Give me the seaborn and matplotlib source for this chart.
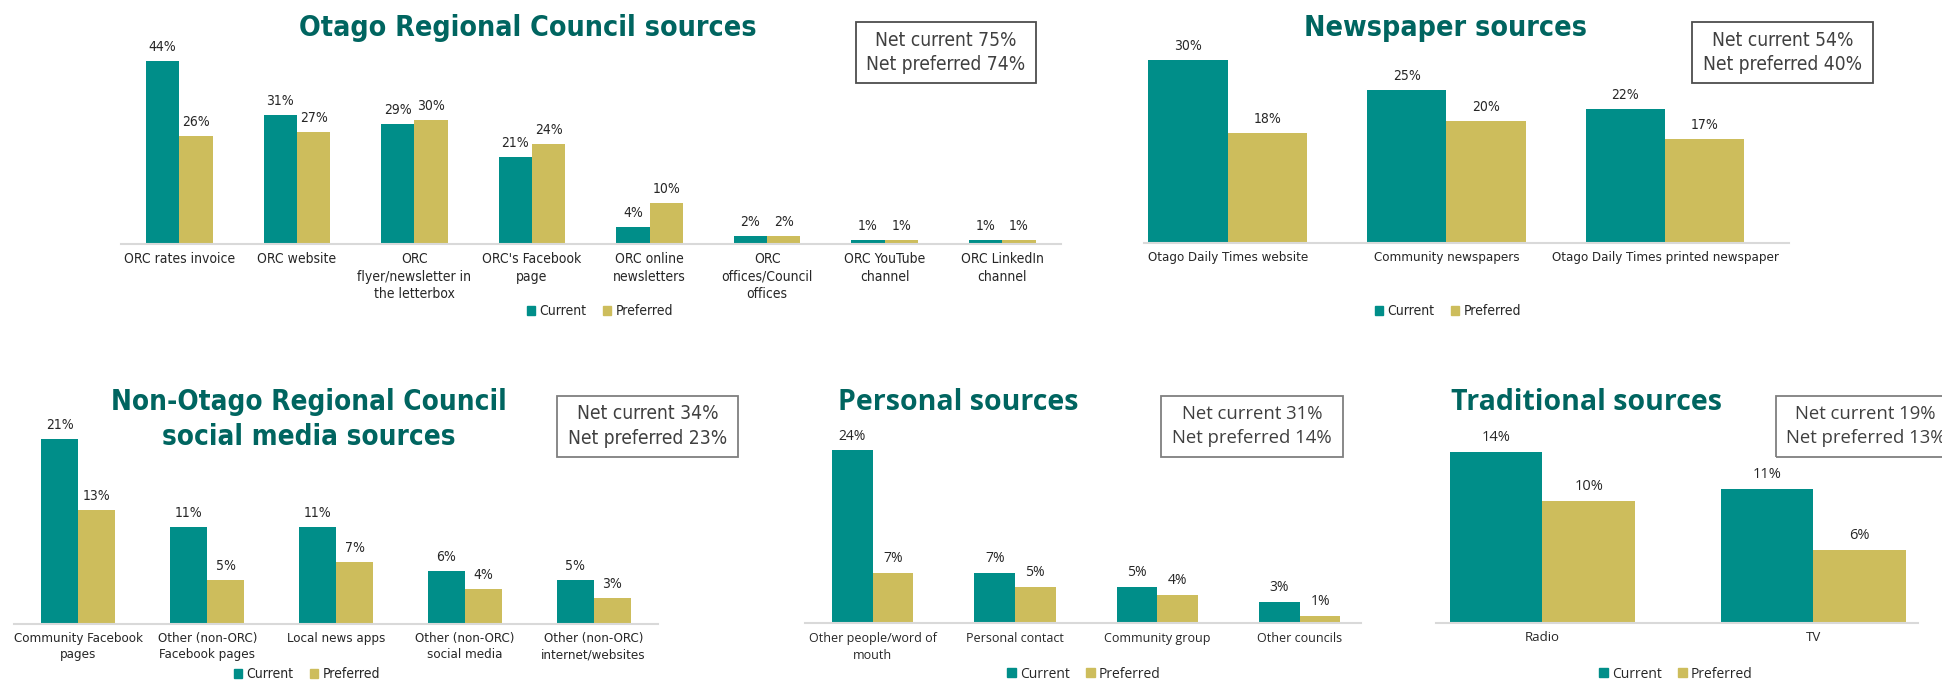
import matplotlib
matplotlib.use("Agg")
import matplotlib.pyplot as plt
import seaborn as sns
import pandas as pd
from matplotlib import font_manager
from matplotlib.patches import Patch, Rectangle

# ---- data ----
series = ["Current", "Preferred"]

orc_labels = ["ORC rates invoice", "ORC website", "ORC\nflyer/newsletter in\nthe letterbox",
              "ORC's Facebook\npage", "ORC online\nnewsletters", "ORC\noffices/Council\noffices",
              "ORC YouTube\nchannel", "ORC LinkedIn\nchannel"]
orc_current = [44, 31, 29, 21, 4, 2, 1, 1]
orc_preferred = [26, 27, 30, 24, 10, 2, 1, 1]
orc_net = [75, 74]

news_labels = ["Otago Daily Times website", "Community newspapers", "Otago Daily Times printed newspaper"]
news_current = [30, 25, 22]
news_preferred = [18, 20, 17]
news_net = [54, 40]

social_labels = ["Community Facebook\npages", "Other (non-ORC)\nFacebook pages", "Local news apps",
                 "Other (non-ORC)\nsocial media", "Other (non-ORC)\ninternet/websites"]
social_current = [21, 11, 11, 6, 5]
social_preferred = [13, 5, 7, 4, 3]
social_net = [34, 23]

personal_labels = ["Other people/word of\nmouth", "Personal contact", "Community group", "Other councils"]
personal_current = [24, 7, 5, 3]
personal_preferred = [7, 5, 4, 1]
personal_net = [31, 14]

trad_labels = ["Radio", "TV"]
trad_current = [14, 11]
trad_preferred = [10, 6]
trad_net = [19, 13]

# ---- style ----
TEAL = "#008E89"
KHAKI = "#CDBD5C"
TITLE_COL = "#006560"
TEXT_COL = "#262626"
W, H = 1942, 680

sns.set_theme(style="white")
plt.rcParams["font.family"] = ["DejaVu Sans"]

fonts = font_manager.fontManager.ttflist
# narrow font for the Excel "Aptos Narrow" look
if any(f.name == "DejaVu Sans" and f.stretch == "condensed" for f in fonts):
    NARROW = dict(family="DejaVu Sans", stretch="condensed")
elif any(f.name == "Liberation Sans Narrow" for f in fonts):
    NARROW = dict(family="Liberation Sans Narrow")
else:
    NARROW = dict(family="DejaVu Sans")

# regular font: pick one that also ships a bold face
REGULAR = dict(family="DejaVu Sans")
for fam in ["Open Sans", "Noto Sans", "Lato", "Roboto", "Inter"]:
    if any(f.name == fam and f.weight in (700, "bold") for f in fonts):
        REGULAR = dict(family=fam)
        break

fig = plt.figure(figsize=(W / 100, H / 100), dpi=100)
fig.patch.set_facecolor("white")


def fx(px):
    return px / W


def fy(px):
    return 1 - px / H


def panel(labels, cur, pref, left, right, base, scale, xlim, width, font,
          tick_size, val_size, legend_xy, linesp=1.3):
    ymax = max(cur + pref)
    top = base - scale * ymax
    ax = fig.add_axes([fx(left), fy(base), (right - left) / W, (base - top) / H])
    df = pd.DataFrame({
        "source": labels * 2,
        "series": [series[0]] * len(labels) + [series[1]] * len(labels),
        "pct": cur + pref,
    })
    sns.barplot(data=df, x="source", y="pct", hue="series", palette=[TEAL, KHAKI],
                width=width, gap=0, saturation=1, errorbar=None, legend=False,
                linewidth=0, edgecolor="none", ax=ax)
    for c in ax.containers:
        ax.bar_label(c, fmt="{:.0f}%", padding=5, fontsize=val_size, color=TEXT_COL, **font)
    ax.set_xlim(*xlim)
    ax.set_ylim(0, ymax)
    ax.set_xlabel("")
    ax.set_ylabel("")
    ax.set_yticks([])
    for s in ["top", "left", "right"]:
        ax.spines[s].set_visible(False)
    ax.spines["bottom"].set_color("#D9D9D9")
    ax.spines["bottom"].set_linewidth(1.5)
    ax.tick_params(axis="x", length=0, pad=6)
    for lbl in ax.get_xticklabels():
        lbl.set_fontsize(tick_size)
        lbl.set_color(TEXT_COL)
        lbl.set_linespacing(linesp)
        lbl.set_multialignment("center")
        lbl.set(**font)
    handles = [Patch(color=TEAL), Patch(color=KHAKI)]
    ax.legend(handles, series, loc="center", bbox_to_anchor=(fx(legend_xy[0]), fy(legend_xy[1])),
              bbox_transform=fig.transFigure, ncol=2, frameon=False, handlelength=0.6,
              handleheight=0.6, handletextpad=0.3, columnspacing=1.2,
              prop=dict(size=10, **font), labelcolor=TEXT_COL)
    return ax


def net_box(net, x0, x1, y0, y1, line_y, font, size, edge):
    fig.add_artist(Rectangle((fx(x0), fy(y1)), (x1 - x0) / W, (y1 - y0) / H,
                             transform=fig.transFigure, fill=False, edgecolor=edge, lw=1.3))
    cx = (x0 + x1) / 2
    fig.text(fx(cx), fy(line_y[0]), f"Net current {net[0]}%", ha="center", va="center",
             fontsize=size, color="#404040", **font)
    fig.text(fx(cx), fy(line_y[1]), f"Net preferred {net[1]}%", ha="center", va="center",
             fontsize=size, color="#404040", **font)


def title(text, x, y, font, size):
    fig.text(fx(x), fy(y), text, ha="center", va="center", fontsize=size,
             fontweight="bold", color=TITLE_COL, **font)


# Otago Regional Council sources
panel(orc_labels, orc_current, orc_preferred, 120.5, 1061, 244, 4.15, (-0.5, 7.5), 0.567,
      NARROW, 10, 10, (600, 311))
title("Otago Regional Council sources", 528, 28, NARROW, 20.5)
net_box(orc_net, 856, 1036, 22, 83, (40.7, 65), NARROW, 13.8, "#4D4D4D")

# Newspaper sources
panel(news_labels, news_current, news_preferred, 1143.5, 1789, 242.7, 6.1, (-0.385, 2.567), 0.7256,
      NARROW, 9.5, 10, (1448, 311))
title("Newspaper sources", 1445, 28, NARROW, 20.5)
net_box(news_net, 1691.5, 1873.4, 22, 83, (40.7, 65), NARROW, 13.8, "#4D4D4D")

# Non-ORC social media sources
panel(social_labels, social_current, social_preferred, 14, 658, 624, 8.8, (-0.5, 4.5), 0.573,
      NARROW, 9.5, 10, (307, 674))
title("Non-Otago Regional Council", 309, 402.3, NARROW, 20)
title("social media sources", 309, 436.7, NARROW, 20)
net_box(social_net, 557, 738, 395.7, 457.3, (413.7, 438), NARROW, 13.8, "#7F7F7F")

# Personal sources
panel(personal_labels, personal_current, personal_preferred, 805, 1361, 623.3, 7.2, (-0.475, 3.43), 0.571,
      REGULAR, 9, 10, (1084, 674), linesp=1.4)
title("Personal sources", 958, 402.3, REGULAR, 20.5)
net_box(personal_net, 1160.8, 1343, 395.7, 457.3, (413.7, 438), REGULAR, 13.3, "#7F7F7F")

# Traditional sources
panel(trad_labels, trad_current, trad_preferred, 1436, 1918, 622.7, 12.2, (-0.393, 1.387), 0.683,
      REGULAR, 9.5, 10.5, (1676, 674))
title("Traditional sources", 1586, 402.3, REGULAR, 20.5)
net_box(trad_net, 1775.7, 1955, 395.7, 457.3, (413.7, 438), REGULAR, 13.3, "#7F7F7F")

fig.savefig("out.png", dpi=100, facecolor="white")
